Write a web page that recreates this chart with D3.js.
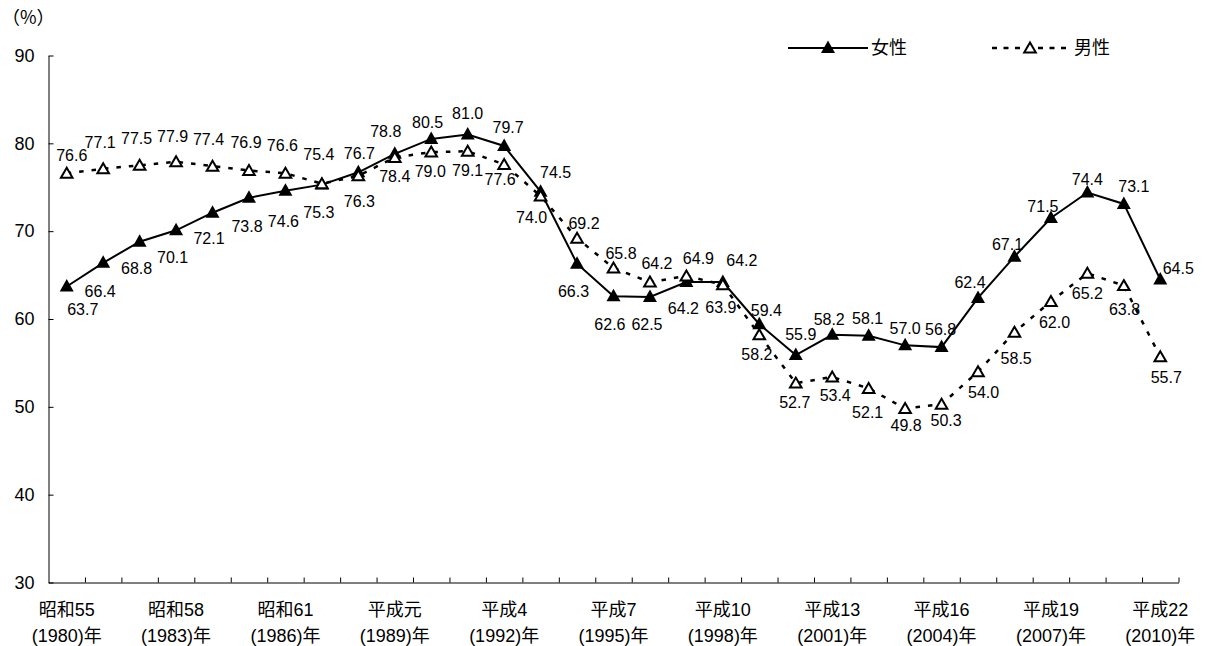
<!DOCTYPE html>
<html>
<head>
<meta charset="utf-8">
<script src="https://cdn.jsdelivr.net/npm/d3@7"></script>
<style>
  html, body { margin: 0; padding: 0; background: #fff; }
  svg { display: block; font-family: "Liberation Sans", "Noto Sans CJK JP", sans-serif; }
</style>
</head>
<body>
<script>
// Categories: survey years 1980–2010
const years = [1980, 1981, 1982, 1983, 1984, 1985, 1986, 1987, 1988, 1989,
               1990, 1991, 1992, 1993, 1994, 1995, 1996, 1997, 1998, 1999,
               2000, 2001, 2002, 2003, 2004, 2005, 2006, 2007, 2008, 2009, 2010];

// Series values (%)
const femaleRates = [63.7, 66.4, 68.8, 70.1, 72.1, 73.8, 74.6, 75.3, 76.7, 78.8,
                     80.5, 81.0, 79.7, 74.5, 66.3, 62.6, 62.5, 64.2, 64.2, 59.4,
                     55.9, 58.2, 58.1, 57.0, 56.8, 62.4, 67.1, 71.5, 74.4, 73.1, 64.5];
const maleRates = [76.6, 77.1, 77.5, 77.9, 77.4, 76.9, 76.6, 75.4, 76.3, 78.4,
                   79.0, 79.1, 77.6, 74.0, 69.2, 65.8, 64.2, 64.9, 63.9, 58.2,
                   52.7, 53.4, 52.1, 49.8, 50.3, 54.0, 58.5, 62.0, 65.2, 63.8, 55.7];

// Axis tick labels
const tickYears = [1980, 1983, 1986, 1989, 1992, 1995, 1998, 2001, 2004, 2007, 2010];
const eraLabels = ["昭和55", "昭和58", "昭和61", "平成元", "平成4", "平成7",
                   "平成10", "平成13", "平成16", "平成19", "平成22"];
const yTicks = [30, 40, 50, 60, 70, 80, 90];
const seriesNames = ["女性", "男性"];

// Value-label nudges relative to each point (dx, dy of the label centre, px)
const femaleLabelShift = [[16,23],[-3,28],[-3,27],[-3.5,27],[-3.5,26],[-2,28],[-2,30],[-3,28],[1,-19],[-9,-23],
                          [-3.6,-17],[0,-21],[4,-19],[15,-19],[-3.5,28],[-3.6,27.6],[-3,26.7],[-3,26],[19,-22],[7,-14],
                          [5,-21],[-3,-16],[-1,-17],[0,-17],[-1,-18],[-8,-16],[-7,-12],[-8,-12],[0,-13],[10,-18],[18,-11]];
const maleLabelShift = [[5,-18],[-3,-27],[-3,-27],[-3.5,-26],[-4,-27],[-3,-28],[-3,-28],[-3,-29],[1,25.5],[0,19],
                        [-1,19],[0,19],[-4,15],[-9,21],[7,-15],[7.5,-15],[7,-19],[12,-18],[-2,22],[-2.4,19],
                        [-1,19],[3,18.5],[-1,24],[1,17],[4.5,16],[5.6,20.5],[1.7,26],[3.6,21],[0,20],[0.7,24],[6,20]];

const W = 1205, H = 646;
const plotLeft = 48.5, plotRight = 1178.5, plotTop = 55.5, plotBottom = 582.5;

const svg = d3.select("body").append("svg").attr("width", W).attr("height", H);

const x = d3.scaleBand().domain(years).range([plotLeft, plotRight]).padding(0);
const xEdge = d3.scaleLinear().domain([0, years.length]).range([plotLeft, plotRight]);
const y = d3.scaleLinear().domain([30, 90]).range([plotBottom, plotTop]);
const cx = yr => x(yr) + x.bandwidth() / 2;

// Y axis (ticks point inward)
const yAxis = svg.append("g")
  .attr("transform", `translate(${plotLeft},0)`)
  .call(d3.axisLeft(y).tickValues(yTicks).tickSize(-5).tickSizeOuter(0).tickPadding(14));
yAxis.selectAll("path, line").attr("stroke", "#000");
yAxis.selectAll("text").attr("font-size", 18).attr("fill", "#000")
  .attr("font-family", "Liberation Sans, sans-serif");

// Unit label
svg.append("text").attr("x", 2).attr("y", 24).attr("font-size", 18)
  .attr("font-family", "'Noto Sans CJK JP', sans-serif").text("（%）");

// X axis line with tick marks on category boundaries
const xAxisLine = svg.append("g")
  .attr("transform", `translate(0,${plotBottom})`)
  .call(d3.axisBottom(xEdge).tickValues(d3.range(1, years.length + 1)).tickSize(-5).tickSizeOuter(0).tickFormat(""));
xAxisLine.selectAll("path, line").attr("stroke", "#000");

// X axis labels, two lines each
const xLabels = svg.append("g")
  .attr("transform", `translate(0,${plotBottom})`)
  .call(d3.axisBottom(x).tickValues(tickYears).tickSize(0).tickPadding(0)
    .tickFormat((d, i) => eraLabels[i]));
xLabels.select(".domain").remove();
xLabels.selectAll("text")
  .attr("font-size", 18).attr("fill", "#000").attr("y", 0).attr("dy", null)
  .attr("font-family", "Liberation Sans, Noto Sans CJK JP, sans-serif")
  .each(function (d, i) {
    const t = d3.select(this);
    t.text(null);
    t.append("tspan").attr("x", 0).attr("y", 33).text(eraLabels[i]);
    t.append("tspan").attr("x", 0).attr("y", 59).text(`(${d})年`);
  });

// Triangle marker shapes
const triFilled = "M0,-7.5L7,5L-7,5Z";
const triOpen = "M0,-5.5L5.8,4.5L-5.8,4.5Z";

const femaleData = years.map((yr, i) => ({ yr, v: femaleRates[i], s: femaleLabelShift[i] }));
const maleData = years.map((yr, i) => ({ yr, v: maleRates[i], s: maleLabelShift[i] }));

const line = d3.line().x(d => cx(d.yr)).y(d => y(d.v));

// Female series: solid line, filled triangles
svg.append("path").datum(femaleData).attr("d", line)
  .attr("fill", "none").attr("stroke", "#000").attr("stroke-width", 2);
svg.append("g").selectAll("path").data(femaleData).join("path")
  .attr("d", triFilled).attr("transform", d => `translate(${cx(d.yr)},${y(d.v)})`)
  .attr("fill", "#000");

// Male series: dashed line, open triangles
svg.append("path").datum(maleData).attr("d", line)
  .attr("fill", "none").attr("stroke", "#000").attr("stroke-width", 2.5)
  .attr("stroke-dasharray", "4.5,8");
svg.append("g").selectAll("path").data(maleData).join("path")
  .attr("d", triOpen).attr("transform", d => `translate(${cx(d.yr)},${y(d.v)})`)
  .attr("fill", "#fff").attr("stroke", "#000").attr("stroke-width", 2);

// Value labels
const fmt = d3.format(".1f");
function drawLabels(data) {
  svg.append("g").selectAll("text").data(data).join("text")
    .attr("x", d => cx(d.yr) + d.s[0])
    .attr("y", d => y(d.v) + d.s[1])
    .attr("dy", "0.36em")
    .attr("text-anchor", "middle")
    .attr("font-size", 16)
    .attr("fill", "#000")
    .text(d => fmt(d.v));
}
drawLabels(femaleData);
drawLabels(maleData);

// Legend
const legY = 48;
const lg = svg.append("g");
lg.append("line").attr("x1", 788).attr("x2", 868).attr("y1", legY).attr("y2", legY)
  .attr("stroke", "#000").attr("stroke-width", 2);
lg.append("path").attr("d", triFilled).attr("transform", `translate(828,${legY})`).attr("fill", "#000");
lg.append("text").attr("x", 871).attr("y", legY).attr("dy", "0.36em").attr("font-size", 18)
  .attr("font-family", "Noto Sans CJK JP, sans-serif").text(seriesNames[0]);
lg.append("line").attr("x1", 992).attr("x2", 1070).attr("y1", legY).attr("y2", legY)
  .attr("stroke", "#000").attr("stroke-width", 2.5).attr("stroke-dasharray", "5,6.5");
lg.append("path").attr("d", triOpen).attr("transform", `translate(1030,${legY})`)
  .attr("fill", "#fff").attr("stroke", "#000").attr("stroke-width", 2);
lg.append("text").attr("x", 1074).attr("y", legY).attr("dy", "0.36em").attr("font-size", 18)
  .attr("font-family", "Noto Sans CJK JP, sans-serif").text(seriesNames[1]);
</script>
</body>
</html>
